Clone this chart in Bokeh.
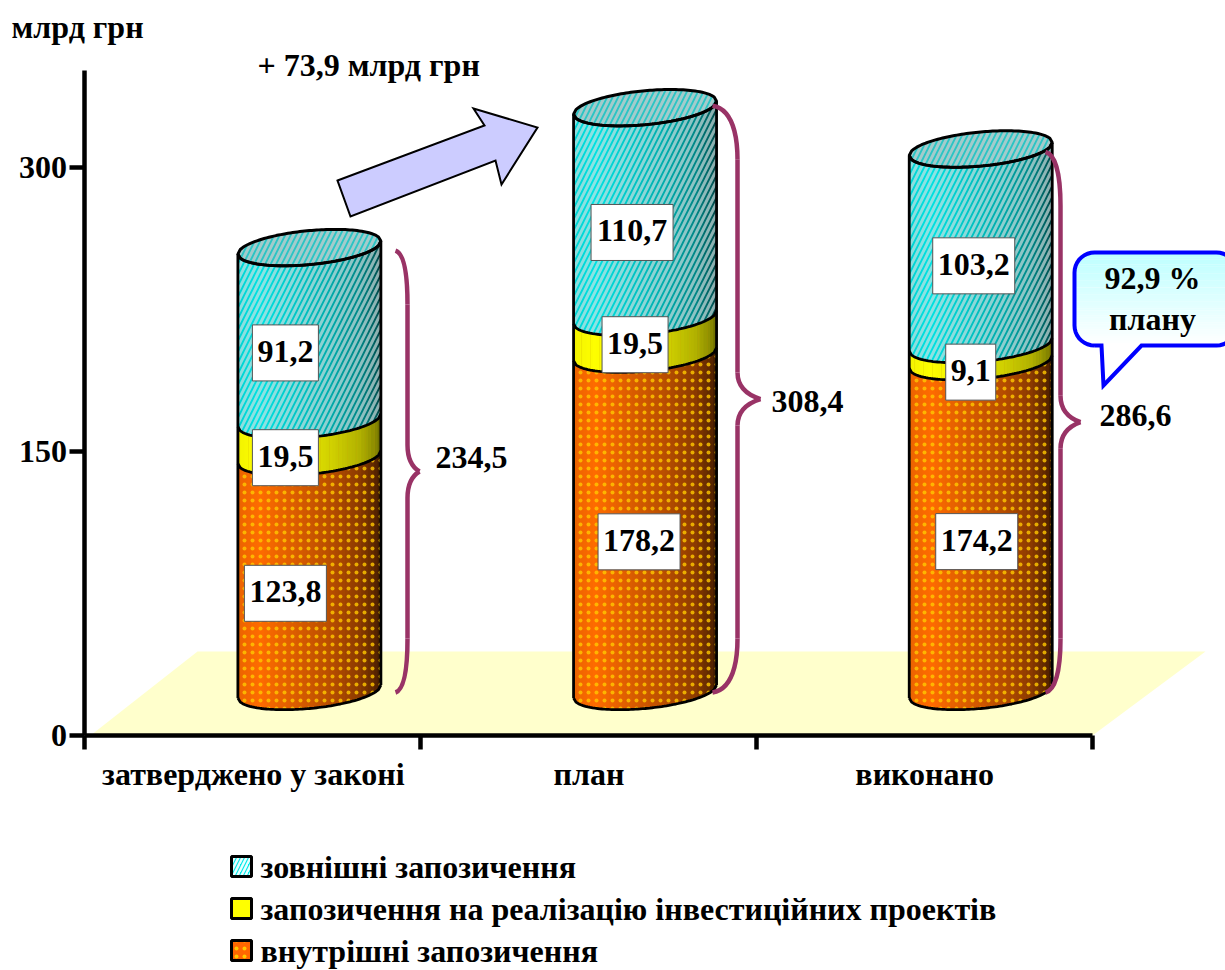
import math
from bokeh.plotting import figure
from bokeh.models import FixedTicker
from bokeh.core.properties import value
from bokeh.embed import file_html
from bokeh.resources import INLINE

# ---- data ----
categories = ["затверджено у законі", "план", "виконано"]
internal = [123.8, 178.2, 174.2]
projects = [19.5, 19.5, 9.1]
external = [91.2, 110.7, 103.2]
totals = [234.5, 308.4, 286.6]
y_ticks = [0, 150, 300]
legend_labels = ["зовнішні запозичення", "запозичення на реалізацію інвестиційних проектів", "внутрішні запозичення"]
unit_label = "млрд грн"
delta_label = "+ 73,9 млрд грн"
callout_lines = ["92,9 %", "плану"]

FONT = value("Liberation Serif")
W, H = 1225, 970
PXU = 335.67      # px per category
PXV = 1.893       # px per unit of value
X = lambda px: (px - 85) / PXU
Y = lambda py: (735 - py) / PXV

p = figure(width=W, height=H, output_backend="svg", toolbar_location=None,
           x_range=(X(0), X(W)), y_range=(Y(H), Y(0)), min_border=0,
           outline_line_color=None, background_fill_color="white", border_fill_color="white")
p.grid.visible = False

# ---- axes ----
AW = 4.5
xa, ya = p.xaxis[0], p.yaxis[0]
xa.fixed_location = 0
ya.fixed_location = X(83.5)
xa.bounds = (X(83.5), 3)
ya.bounds = (0, Y(70))
ya.ticker = FixedTicker(ticks=y_ticks)
xa.ticker = FixedTicker(ticks=[0.5, 1.5, 2.5], minor_ticks=[X(83.5), X(419.5), 2, 3])
xa.major_label_overrides = {i + 0.5: c for i, c in enumerate(categories)}
for a in (xa, ya):
    a.axis_line_width = AW
    a.axis_line_color = "black"
    a.major_label_text_font = "Liberation Serif"
    a.major_label_text_font_style = "bold"
    a.major_label_text_color = "black"
xa.major_tick_line_color = None
xa.minor_tick_line_color = "black"
xa.minor_tick_line_width = AW
xa.minor_tick_out = 14
xa.minor_tick_in = 0
xa.major_tick_out = 14
xa.major_tick_in = 0
xa.major_label_text_font_size = "32px"
xa.major_label_standoff = 6
ya.minor_tick_line_color = None
ya.major_tick_line_color = "black"
ya.major_tick_line_width = AW
ya.major_tick_out = 15
ya.major_tick_in = 0
ya.major_label_text_font_size = "32px"
ya.major_label_standoff = 2

# ---- floor ----
p.patch([X(90), X(197), X(1205), X(1092)], [Y(735), Y(651), Y(651), Y(735)],
        fill_color="#FFFFCC", line_color=None, level="underlay")

# ---- cylinders ----
BASE = Y(691)
CENTERS = [i + 0.667 for i in range(3)]
HALF = 71.5 / PXU
TILT, DEPTH = 6.5 / PXV, 17 / PXV
N = 44


def arc(v, t, sign=1):
    return v + TILT * t - sign * DEPTH * math.sqrt(max(0, 1 - t * t))


def shade(t):
    stops = [(-1, .92), (-.7, 1.0), (-.2, .86), (.3, .72), (.7, .55), (.92, .36), (1, .22)]
    for (a, fa), (b, fb) in zip(stops, stops[1:]):
        if t <= b:
            return fa + (fb - fa) * (t - a) / (b - a)
    return stops[-1][1]


def col(rgb, f):
    return "#%02x%02x%02x" % tuple(int(min(255, c * f)) for c in rgb)


def ts(n):
    return [-1 + 2 * i / n for i in range(n + 1)]


STYLES = [
    dict(rgb=(255, 108, 0), g=1.0, hatch="dot", hc="#FFC800", ha=.8, hs=8, hw=1.6),
    dict(rgb=(255, 255, 0), g=.6, hatch="vertical_line", hc="#C8A000", ha=.18, hs=9, hw=1),
    dict(rgb=(0, 226, 226), g=.85, hatch="right_diagonal_line", hc="#D8E4E4", ha=.65, hs=11, hw=3),
]
strip_xs, strip_ys, strip_cs = [], [], []
hatch_sets = {0: ([], []), 1: ([], []), 2: ([], [])}
line_xs, line_ys = [], []

for i, c in enumerate(CENTERS):
    levels = [BASE, BASE + internal[i], BASE + internal[i] + projects[i],
              BASE + internal[i] + projects[i] + external[i]]
    for s in range(3):
        lo, hi = levels[s], levels[s + 1]
        grid = ts(N)
        for a, b in zip(grid, grid[1:]):
            b2 = min(1, b + 0.012)
            strip_xs.append([c + HALF * a, c + HALF * b2, c + HALF * b2, c + HALF * a])
            strip_ys.append([arc(lo, a), arc(lo, b2), arc(hi, b2), arc(hi, a)])
            strip_cs.append(col(STYLES[s]["rgb"], shade((a + b) / 2) ** STYLES[s]["g"]))
        fine = ts(60)
        hatch_sets[s][0].append([c + HALF * t for t in fine] + [c + HALF * t for t in reversed(fine)])
        hatch_sets[s][1].append([arc(lo, t) for t in fine] + [arc(hi, t) for t in reversed(fine)])
    fine = ts(60)
    for lv in levels:
        line_xs.append([c + HALF * t for t in fine])
        line_ys.append([arc(lv, t) for t in fine])
    line_xs.append([c - HALF, c - HALF])
    line_ys.append([arc(levels[0], -1), arc(levels[3], -1)])
    line_xs.append([c + HALF, c + HALF])
    line_ys.append([arc(levels[0], 1), arc(levels[3], 1)])

p.patches(strip_xs, strip_ys, fill_color=strip_cs, line_color=None)
for s, st in enumerate(STYLES):
    p.patches(hatch_sets[s][0], hatch_sets[s][1], fill_alpha=0, line_color=None,
              hatch_pattern=st["hatch"], hatch_color=st["hc"], hatch_alpha=st["ha"],
              hatch_scale=st["hs"], hatch_weight=st["hw"])

# top faces
top_x, top_y = [], []
for i, c in enumerate(CENTERS):
    v = BASE + totals[i]
    fine = ts(60)
    top_x.append([c + HALF * t for t in fine] + [c + HALF * t for t in reversed(fine)])
    top_y.append([arc(v, t) for t in fine] + [arc(v, t, -1) for t in reversed(fine)])
p.patches(top_x, top_y, fill_color="#2CC4C4", line_color="black", line_width=3,
          hatch_pattern="right_diagonal_line", hatch_color="#B8CCCC", hatch_alpha=.85,
          hatch_scale=11, hatch_weight=3)
p.multi_line(line_xs, line_ys, line_color="black", line_width=2.8)

# ---- value labels ----
NUDGE_X = [[-24, -24, -24], [-6, -10, -13], [-4, -10, -7]]   # px from cylinder centre
NUDGE_Y = [[19, 19, 19], [19, 9, 20], [15, 19, 19]]
TEXT_UP = 1.5 / PXV
lx, ly, lt, bw = [], [], [], []
for i, c in enumerate(CENTERS):
    lo = BASE
    for s, series in enumerate((internal, projects, external)):
        val = series[i]
        lx.append(c + NUDGE_X[i][s] / PXU)
        ly.append(lo + val / 2 - NUDGE_Y[i][s] / PXV)
        txt = f"{val:.1f}".replace(".", ",")
        lt.append(txt)
        bw.append({3: 50, 4: 66, 5: 82}[len(txt)])
        lo += val
p.rect(lx, ly, width=bw, height=56, width_units="screen", height_units="screen",
       fill_color="white", line_color="#555555", line_width=1)
p.text(lx, [v + TEXT_UP for v in ly], text=lt, text_font=FONT, text_font_style="bold", text_font_size="32px",
       text_align="center", text_baseline="middle", text_color="black")

# ---- braces ----
BRACE = "#993366"
BR_LEFT = [395, 712, 1045]
BR_SPINE = [407, 737, 1060]
BR_TIP = [419, 760, 1080]
BR_TOP_NUDGE = [-3, 2, -3]
BR_BOTTOM = Y(692)
bz = dict(x0=[], y0=[], x1=[], y1=[], cx0=[], cy0=[], cx1=[], cy1=[])


def seg(x0, y0, cx0, cy0, cx1, cy1, x1, y1):
    for k, val in zip(bz, (x0, y0, x1, y1, cx0, cy0, cx1, cy1)):
        bz[k].append(val)


for i in range(3):
    top = BASE + totals[i] + BR_TOP_NUDGE[i] / PXV
    bot = BR_BOTTOM
    mid = (top + bot) / 2
    a, b, d = X(BR_LEFT[i]), X(BR_SPINE[i]), X(BR_TIP[i])
    k = 45 / PXV
    seg(a, top, b, top - 4 / PXV, b, top - k, b, top - k * 1.2)
    seg(b, top - k * 1.2, b, mid + 20, b, mid + 14, b, mid + 14)
    seg(b, mid + 14, b, mid + 5, d - (d - b) * .4, mid + 1.5, d, mid)
    seg(d, mid, d - (d - b) * .4, mid - 1.5, b, mid - 5, b, mid - 14)
    seg(b, mid - 14, b, mid - 20, b, bot + k * 1.2, b, bot + k * 1.2)
    seg(b, bot + k * 1.2, b, bot + k, b, bot + 4 / PXV, a, bot)
p.bezier(line_color=BRACE, line_width=4.5, **bz)

p.text([X(435), X(771), X(1099)], [Y(457), Y(401), Y(415)],
       text=[f"{t:.1f}".replace(".", ",") for t in totals], text_font=FONT, text_font_style="bold",
       text_font_size="32px", text_align="left", text_baseline="middle", text_color="black")

# ---- arrow ----
ax = [337, 484, 473, 537, 501, 495, 350]
ay = [180, 125, 108, 127, 184, 160, 216]
p.patch([X(v) for v in ax], [Y(v) for v in ay], fill_color="#CCCCFF", line_color="black",
        line_width=2, line_join="miter")
p.text([X(257)], [Y(64)], text=[delta_label], text_font=FONT, text_font_style="bold",
       text_font_size="32px", text_align="left", text_baseline="middle", text_color="black")
p.text([X(11)], [Y(26)], text=[unit_label], text_font=FONT, text_font_style="bold",
       text_font_size="32px", text_align="left", text_baseline="middle", text_color="black")

# ---- callout ----
L, R, T, B, RAD = 1074, 1236, 252, 345, 20


def edge(py, left=True):
    d = 0
    if py < T + RAD:
        d = RAD - math.sqrt(max(0, RAD ** 2 - (T + RAD - py) ** 2))
    elif py > B - RAD:
        d = RAD - math.sqrt(max(0, RAD ** 2 - (py - B + RAD) ** 2))
    return L + d if left else R - d


rows = 40
cx, cy, cc = [], [], []
for r in range(rows):
    y0 = T + (B - T) * r / rows
    y1 = T + (B - T) * (r + 1.1) / rows
    y1 = min(y1, B)
    f = r / (rows - 1)
    cx.append([X(edge(y0)), X(edge(y0, False)), X(edge(y1, False)), X(edge(y1))])
    cy.append([Y(y0), Y(y0), Y(y1), Y(y1)])
    cc.append("#%02x%02x%02x" % (int(190 + 65 * f), 255, 255))
p.patches(cx, cy, fill_color=cc, line_color=None)
p.patch([X(1101), X(1103), X(1141)], [Y(344), Y(385), Y(344)], fill_color="white", line_color=None)
path = []
for a in range(0, 91, 10):  # bottom-left corner going up
    t = math.radians(a)
    path.append((L + RAD - RAD * math.cos(t), B - RAD + RAD * math.sin(t)))
path = path[::-1]
for a in range(0, 91, 10):
    t = math.radians(a)
    path.append((L + RAD - RAD * math.cos(t), T + RAD - RAD * math.sin(t)))
for a in range(0, 91, 10):
    t = math.radians(a)
    path.append((R - RAD + RAD * math.sin(t), T + RAD - RAD * math.cos(t)))
for a in range(0, 91, 10):
    t = math.radians(a)
    path.append((R - RAD + RAD * math.cos(t), B - RAD + RAD * math.sin(t)))
path += [(1141, B), (1103, 385), (1101, B), (L + RAD, B)]
p.line([X(q[0]) for q in path], [Y(q[1]) for q in path], line_color="#0000FF", line_width=4,
       line_join="miter")
p.text([X(1152), X(1152)], [Y(277), Y(318)], text=callout_lines, text_font=FONT, text_font_style="bold",
       text_font_size="32px", text_align="center", text_baseline="middle", text_color="black")

# ---- legend ----
leg_y = [866, 908, 950]
p.rect([X(241)] * 3, [Y(v) for v in leg_y], width=20, height=20, width_units="screen", height_units="screen",
       fill_color=["#00E8E8", "#FFFF00", "#FF6600"], line_color="black", line_width=3,
       hatch_pattern=["right_diagonal_line", "blank", "dot"], hatch_color=["#E8FFFF", "#FFFF00", "#FFC800"],
       hatch_scale=8, hatch_weight=2.5)
p.text([X(260)] * 3, [Y(v) for v in leg_y], text=legend_labels, text_font=FONT, text_font_style="bold",
       text_font_size="32px", text_align="left", text_baseline="middle", text_color="black")

open("out.html", "w").write(file_html(p, INLINE))
